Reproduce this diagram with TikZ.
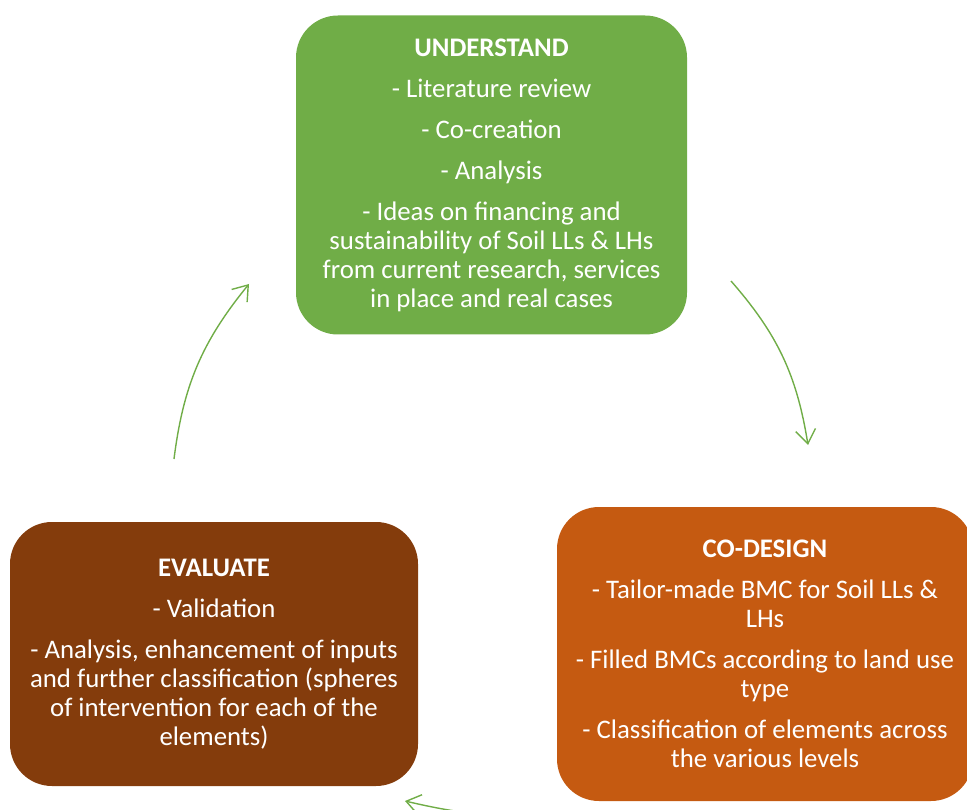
\documentclass[tikz,border=0pt]{standalone}
\usepackage{fontspec}
\setmainfont{Carlito}
\usetikzlibrary{arrows.meta}
\definecolor{leaf}{HTML}{70AD47}
\definecolor{rust}{HTML}{C55A11}
\definecolor{bark}{HTML}{843C0C}
\begin{document}
\begin{tikzpicture}[x=1pt,y=-1pt,
  phase/.style={rounded corners=42pt, text=white, align=center,
    font=\fontsize{26.8}{29}\selectfont, inner sep=0pt},
  cyclearrow/.style={leaf, line width=1.4pt,
    -{Straight Barb[length=14pt,width=20pt,line width=1.4pt]}}]
\clip (0,0) rectangle (967,810);

% three phases of the cycle
\node[phase, fill=leaf, minimum width=391pt, minimum height=319pt] (understand) at (491.5,175)
  {\textbf{UNDERSTAND}\\[12pt]
   - Literature review\\[12pt]
   - Co-creation\\[12pt]
   - Analysis\\[12pt]
   - Ideas on financing and\\
   sustainability of Soil LLs \& LHs\\
   from current research, services\\
   in place and real cases};

\node[phase, fill=rust, minimum width=416pt, minimum height=294pt] (codesign) at (765,654)
  {\textbf{CO-DESIGN}\\[12pt]
   - Tailor-made BMC for Soil LLs \&\\
   LHs\\[12pt]
   - Filled BMCs according to land use\\
   type\\[12pt]
   - Classification of elements across\\
   the various levels};

\node[phase, fill=bark, minimum width=408pt, minimum height=264pt] (evaluate) at (214,654)
  {\textbf{EVALUATE}\\[12pt]
   - Validation\\[12pt]
   - Analysis, enhancement of inputs\\
   and further classification (spheres\\
   of intervention for each of the\\
   elements)};

% curved arrows linking the phases
\coordinate (u2c-start) at (731,281);
\coordinate (u2c-end) at (808,445);
\coordinate (c2e-start) at (560,815);
\coordinate (c2e-end) at (405,801);
\coordinate (e2u-start) at (174,459);
\coordinate (e2u-end) at (249,284);

\draw[cyclearrow] (u2c-start) to[bend left=16] (u2c-end);
\draw[cyclearrow] (c2e-start) to[bend left=8] (c2e-end);
\draw[cyclearrow] (e2u-start) to[bend left=16] (e2u-end);
\end{tikzpicture}
\end{document}
